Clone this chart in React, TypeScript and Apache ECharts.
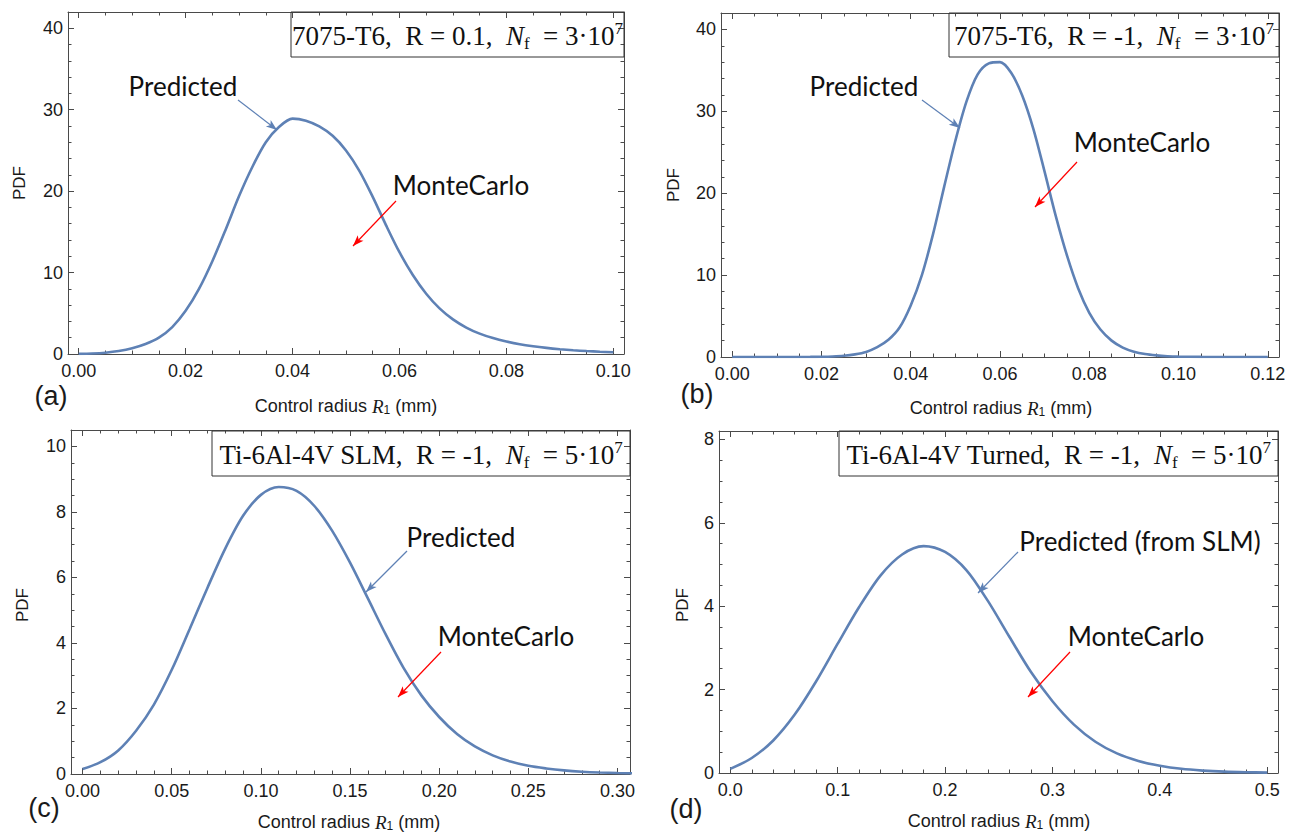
import React, { useEffect, useRef } from "react";
import * as echarts from "echarts";

// ---------- data ----------
// (a) 7075-T6, R = 0.1
const xA = [0, 0.0025, 0.005, 0.0075, 0.01, 0.0125, 0.015, 0.0175, 0.02, 0.0225, 0.025, 0.0275, 0.03, 0.0325, 0.035, 0.0375, 0.04, 0.0425, 0.045, 0.0475, 0.05, 0.0525, 0.055, 0.0575, 0.06, 0.0625, 0.065, 0.0675, 0.07, 0.0725, 0.075, 0.0775, 0.08, 0.0825, 0.085, 0.0875, 0.09, 0.0925, 0.095, 0.0975, 0.1];
const yA = [0.02, 0.06, 0.16, 0.36, 0.7, 1.22, 2.0, 3.3, 5.3, 8.0, 11.4, 15.3, 19.4, 23.0, 26.0, 27.9, 28.9, 28.65, 27.95, 26.8, 25.0, 22.5, 19.3, 15.8, 12.5, 9.7, 7.4, 5.6, 4.25, 3.25, 2.5, 1.95, 1.53, 1.2, 0.95, 0.75, 0.59, 0.46, 0.36, 0.28, 0.22];
// (b) 7075-T6, R = -1
const xB = [0, 0.005, 0.01, 0.015, 0.0175, 0.02, 0.0225, 0.025, 0.0275, 0.03, 0.0325, 0.035, 0.0375, 0.04, 0.0425, 0.045, 0.0475, 0.05, 0.0525, 0.055, 0.0575, 0.06, 0.0625, 0.065, 0.0675, 0.07, 0.0725, 0.075, 0.0775, 0.08, 0.0825, 0.085, 0.0875, 0.09, 0.0925, 0.095, 0.0975, 0.1, 0.105, 0.11, 0.115, 0.12];
const yB = [0, 0, 0, 0, 0.01, 0.03, 0.07, 0.15, 0.32, 0.62, 1.2, 2.1, 3.6, 6.3, 10.0, 15.0, 20.8, 26.4, 31.2, 34.5, 35.85, 36.0, 34.7, 31.9, 27.8, 22.6, 17.2, 12.4, 8.4, 5.4, 3.35, 2.0, 1.15, 0.65, 0.36, 0.2, 0.1, 0.05, 0.01, 0, 0, 0];
// (c) Ti-6Al-4V SLM
const xC = [0, 0.01, 0.02, 0.03, 0.04, 0.05, 0.06, 0.07, 0.08, 0.09, 0.1, 0.11, 0.12, 0.13, 0.14, 0.15, 0.16, 0.17, 0.18, 0.19, 0.2, 0.21, 0.22, 0.23, 0.24, 0.25, 0.26, 0.27, 0.28, 0.29, 0.3, 0.31, 0.3125];
const yC = [0.15, 0.36, 0.72, 1.32, 2.12, 3.18, 4.42, 5.68, 6.88, 7.88, 8.52, 8.76, 8.64, 8.18, 7.42, 6.45, 5.36, 4.26, 3.24, 2.4, 1.74, 1.22, 0.84, 0.57, 0.38, 0.25, 0.17, 0.11, 0.07, 0.045, 0.03, 0.02, 0.018];
// (d) Ti-6Al-4V Turned
const xD = [0, 0.02, 0.04, 0.06, 0.08, 0.1, 0.12, 0.14, 0.16, 0.18, 0.2, 0.22, 0.24, 0.26, 0.28, 0.3, 0.32, 0.34, 0.36, 0.38, 0.4, 0.42, 0.44, 0.46, 0.48, 0.5];
const yD = [0.1, 0.36, 0.78, 1.4, 2.2, 3.1, 3.98, 4.74, 5.24, 5.44, 5.3, 4.86, 4.12, 3.26, 2.42, 1.72, 1.16, 0.75, 0.47, 0.29, 0.175, 0.1, 0.058, 0.032, 0.018, 0.01];

// tick settings
const xTickSteps = [0.02, 0.02, 0.05, 0.1];
const xTickDecimals = [2, 2, 2, 1];
const yTickSteps = [10, 10, 2, 2];

const BLUE = "#5E81B5";
const FRAME = "#4a4a4a";
const TXT = "#1a1a1a";
const SANS = "Liberation Sans";
const SERIF = "Liberation Serif";
const NOTE = "Lato";

const panels = [
  { xs: xA, ys: yA, frame: [68, 12, 624, 354], xRange: [-0.002, 0.102], xMinor: 4, yRange: [0, 42], yMinor: 5, clip: true,
    box: [291, 12, 624, 57], boxText: "{n|7075-T6,  R = 0.1,  }{i|N}{s|f}{n|  = 3·10}{p|7}",
    pred: { text: "Predicted", x: 183, y: 86, from: [238, 100], to: [277, 130] },
    mc: { text: "MonteCarlo", x: 461, y: 185, from: [396, 201], to: [353, 246] },
    letter: { text: "(a)", x: 51, y: 396 }, xt: [346, 406], yt: [19, 183] },
  { xs: xB, ys: yB, frame: [721, 13, 1279, 357], xRange: [-0.0025, 0.1225], xMinor: 4, yRange: [0, 42], yMinor: 5, clip: true,
    box: [949, 13, 1279, 57], boxText: "{n|7075-T6,  R = -1,  }{i|N}{s|f}{n|  = 3·10}{p|7}",
    pred: { text: "Predicted", x: 864, y: 86, from: [922, 100], to: [960, 128] },
    mc: { text: "MonteCarlo", x: 1142, y: 142, from: [1077, 162], to: [1035, 207] },
    letter: { text: "(b)", x: 697, y: 394 }, xt: [1001, 408], yt: [673, 185] },
  { xs: xC, ys: yC, frame: [71, 430, 630, 774], xRange: [-0.0065, 0.307], xMinor: 5, yRange: [0, 10.5], yMinor: 4, clip: false,
    box: [212, 431, 630, 476], boxText: "{n|Ti-6Al-4V SLM,  R = -1,  }{i|N}{s|f}{n|  = 5·10}{p|7}",
    pred: { text: "Predicted", x: 461, y: 537, from: [407, 551], to: [366, 592] },
    mc: { text: "MonteCarlo", x: 506, y: 636, from: [441, 652], to: [398, 697] },
    letter: { text: "(c)", x: 44, y: 808 }, xt: [349, 822], yt: [22, 605] },
  { xs: xD, ys: yD, frame: [719, 431, 1278, 773], xRange: [-0.0105, 0.51], xMinor: 5, yRange: [0, 8.2], yMinor: 4, clip: true,
    box: [839, 431, 1278, 476], boxText: "{n|Ti-6Al-4V Turned,  R = -1,  }{i|N}{s|f}{n|  = 5·10}{p|7}",
    pred: { text: "Predicted (from SLM)", x: 1140, y: 541, from: [1018, 552], to: [978, 593] },
    mc: { text: "MonteCarlo", x: 1136, y: 636, from: [1070, 652], to: [1028, 697] },
    letter: { text: "(d)", x: 686, y: 809 }, xt: [999, 821], yt: [682, 605] },
];

function buildOption() {
  const grid: any[] = [];
  const xAxis: any[] = [];
  const yAxis: any[] = [];
  const series: any[] = [];
  const graphic: any[] = [];

  const lineStyle = { color: FRAME, width: 1 };
  const tickStyle = { color: FRAME, width: 1 };

  panels.forEach((p, i) => {
    const [l, t, r, b] = p.frame;
    grid.push({ left: l, top: t, width: r - l, height: b - t, containLabel: false });

    const xBase = {
      type: "value",
      gridIndex: i,
      min: p.xRange[0],
      max: p.xRange[1],
      splitNumber: 5,
      minInterval: xTickSteps[i],
      maxInterval: xTickSteps[i],
      axisLine: { show: true, onZero: false, lineStyle },
      axisTick: { show: true, inside: true, length: 6, lineStyle: tickStyle },
      minorTick: { show: true, splitNumber: p.xMinor, length: 3.5, lineStyle: tickStyle },
      splitLine: { show: false },
      minorSplitLine: { show: false },
    };
    xAxis.push({
      ...xBase,
      position: "bottom",
      axisLabel: {
        show: true,
        margin: 8,
        showMinLabel: false,
        showMaxLabel: false,
        fontSize: 18,
        fontFamily: SANS,
        color: TXT,
        formatter: (v: number) => v.toFixed(xTickDecimals[i]),
      },
    });
    xAxis.push({ ...xBase, position: "top", axisLabel: { show: false } });

    const yBase = {
      type: "value",
      gridIndex: i,
      min: p.yRange[0],
      max: p.yRange[1],
      interval: yTickSteps[i],
      axisLine: { show: true, onZero: false, lineStyle },
      axisTick: { show: true, inside: true, length: 6, lineStyle: tickStyle },
      minorTick: { show: true, splitNumber: p.yMinor, length: 3.5, lineStyle: tickStyle },
      splitLine: { show: false },
      minorSplitLine: { show: false },
    };
    yAxis.push({
      ...yBase,
      position: "left",
      axisLabel: {
        show: true,
        margin: 5,
        showMaxLabel: false,
        fontSize: 18,
        fontFamily: SANS,
        color: TXT,
        formatter: (v: number) => String(Math.round(v)),
      },
    });
    yAxis.push({ ...yBase, position: "right", axisLabel: { show: false } });

    series.push({
      type: "line",
      xAxisIndex: 2 * i,
      yAxisIndex: 2 * i,
      data: p.xs.map((x, j) => [x, p.ys[j]]),
      smooth: 0.3,
      showSymbol: false,
      symbol: "none",
      clip: p.clip,
      lineStyle: { color: BLUE, width: 2.6 },
      silent: true,
      markLine: {
        silent: true,
        symbol: ["none", "arrow"],
        symbolSize: [6, 11],
        label: { show: false },
        lineStyle: { type: "solid", width: 1.2 },
        data: [
          [
            { x: p.pred.from[0], y: p.pred.from[1], lineStyle: { color: BLUE, width: 1.2 } },
            { x: p.pred.to[0], y: p.pred.to[1] },
          ],
          [
            { x: p.mc.from[0], y: p.mc.from[1], lineStyle: { color: "#ff0000", width: 1.2 } },
            { x: p.mc.to[0], y: p.mc.to[1] },
          ],
        ],
      },
    });

    // boxed label
    const [bl, bt, br, bb] = p.box;
    graphic.push({
      type: "rect",
      shape: { x: bl, y: bt, width: br - bl, height: bb - bt },
      style: { fill: "none", stroke: "#333", lineWidth: 1 },
      z: 10,
    });
    graphic.push({
      type: "text",
      x: (bl + br) / 2,
      y: (bt + bb) / 2 + 1,
      z: 11,
      style: {
        text: p.boxText,
        align: "center",
        verticalAlign: "middle",
        rich: {
          n: { fontFamily: SERIF, fontSize: 27, lineHeight: 32, fill: "#111" },
          i: { fontFamily: SERIF, fontSize: 27, fontStyle: "italic", lineHeight: 32, fill: "#111" },
          s: { fontFamily: SERIF, fontSize: 17, lineHeight: 17, verticalAlign: "bottom", fill: "#111" },
          p: { fontFamily: SERIF, fontSize: 17, lineHeight: 17, verticalAlign: "top", fill: "#111" },
        },
      },
    });

    // axis titles
    graphic.push({
      type: "text",
      x: p.xt[0],
      y: p.xt[1],
      z: 11,
      style: {
        text: "{n|Control radius }{r|R}{s|1}{n| (mm)}",
        align: "center",
        verticalAlign: "middle",
        rich: {
          n: { fontFamily: SANS, fontSize: 18, lineHeight: 20, fill: TXT },
          r: { fontFamily: SERIF, fontSize: 19, fontStyle: "italic", lineHeight: 20, fill: TXT },
          s: { fontFamily: SANS, fontSize: 12, lineHeight: 12, verticalAlign: "bottom", fill: TXT },
        },
      },
    });
    graphic.push({
      type: "text",
      x: p.yt[0],
      y: p.yt[1],
      rotation: Math.PI / 2,
      z: 11,
      style: { text: "PDF", fontFamily: SANS, fontSize: 17, fill: TXT, align: "center", verticalAlign: "middle" },
    });
    // panel letter
    graphic.push({
      type: "text",
      x: p.letter.x,
      y: p.letter.y,
      z: 11,
      style: { text: p.letter.text, fontFamily: SANS, fontSize: 27, fill: TXT, align: "center", verticalAlign: "middle" },
    });
    // annotation texts
    [p.pred, p.mc].forEach((a) => {
      graphic.push({
        type: "text",
        x: a.x,
        y: a.y,
        z: 11,
        style: { text: a.text, fontFamily: NOTE, fontSize: 26, fill: "#111", align: "center", verticalAlign: "middle" },
      });
    });
  });

  return {
    animation: false,
    backgroundColor: "#ffffff",
    grid,
    xAxis,
    yAxis,
    series,
    graphic: { elements: graphic },
  };
}

export default function App() {
  const ref = useRef<HTMLDivElement>(null);
  useEffect(() => {
    document.body.style.margin = "0";
    if (!ref.current) return;
    const chart = echarts.init(ref.current, undefined, { renderer: "svg" });
    chart.setOption(buildOption() as any);
    return () => chart.dispose();
  }, []);
  return <div ref={ref} style={{ width: 1297, height: 834 }} />;
}
